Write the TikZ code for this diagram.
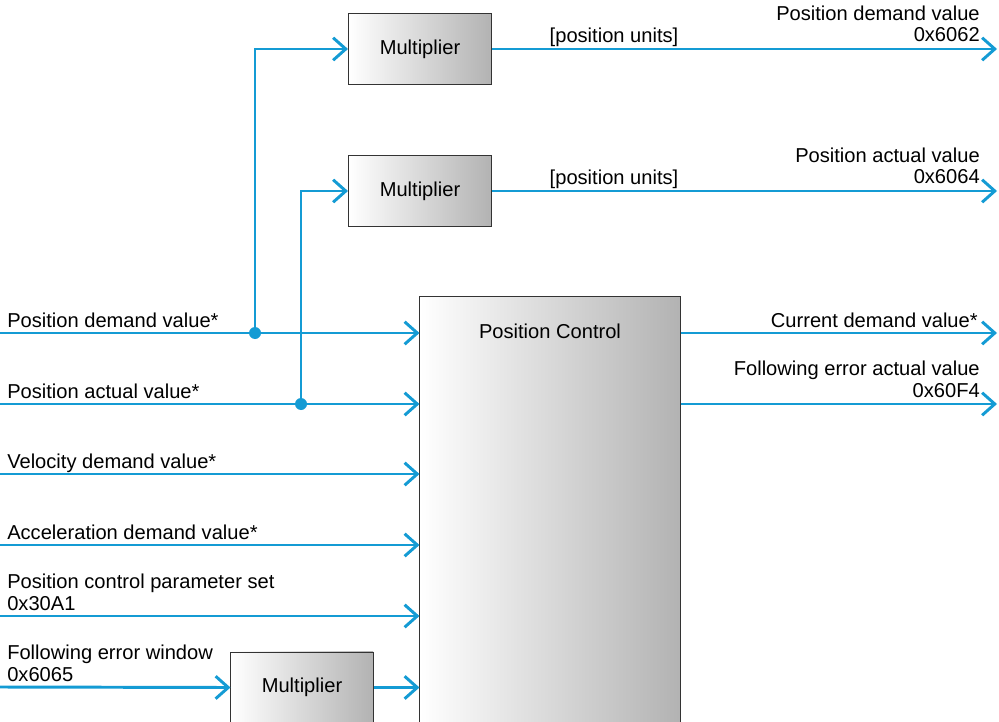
\documentclass[tikz,border=0pt]{standalone}
\usepackage{fontspec}
\setmainfont{Liberation Sans}
\usetikzlibrary{arrows.meta}
\definecolor{sigblue}{RGB}{20,155,212}

\tikzset{
  sig/.style={draw=sigblue, line width=2.1pt, -{Straight Barb[length=9pt,width=16pt,line width=2.1pt]}},
  blockbox/.style={draw=black!80, line width=0.7pt, left color=white, right color=black!30,
    font=\fontsize{14.3}{15.6}\selectfont},
  lbl/.style={inner sep=0pt, font=\fontsize{14.3}{15.6}\selectfont},
}

\begin{document}
\begin{tikzpicture}[x=0.025cm, y=-0.025cm]
  \useasboundingbox (0,0) rectangle (999,722);
  \clip (0,0) rectangle (999,722);

  % blocks
  \node[blockbox, minimum width=3.575cm, minimum height=1.775cm] (mult_dem) at (420,49) {Multiplier};
  \node[blockbox, minimum width=3.575cm, minimum height=1.775cm] (mult_act) at (420,191) {Multiplier};
  \node[blockbox, minimum width=3.55cm, minimum height=1.775cm] (mult_win) at (302,687.5) {Multiplier};
  \node[blockbox, minimum width=6.5cm, minimum height=11.8cm] (pos_ctrl) at (550,533) {};
  \node[lbl] (pc_title) at (550,331) {Position Control};

  % input ends and junctions
  \coordinate (in_pdv) at (0,333);
  \coordinate (in_pav) at (0,404);
  \coordinate (in_vdv) at (0,474);
  \coordinate (in_adv) at (0,545);
  \coordinate (in_pps) at (0,616);
  \coordinate (in_few) at (0,687);
  \coordinate (j_dem) at (255,333);
  \coordinate (j_act) at (301,404);

  % output ends
  \coordinate (out_dem) at (997,49);
  \coordinate (out_act) at (997,191);
  \coordinate (out_cur) at (997,333);
  \coordinate (out_fea) at (997,404);

  % inputs
  \draw[sig] (in_pdv) -- (in_pdv -| pos_ctrl.west);
  \draw[sig] (in_pav) -- (in_pav -| pos_ctrl.west);
  \draw[sig] (in_vdv) -- (in_vdv -| pos_ctrl.west);
  \draw[sig] (in_adv) -- (in_adv -| pos_ctrl.west);
  \draw[sig] (in_pps) -- (in_pps -| pos_ctrl.west);
  \draw[sig] (in_few) -- (mult_win.west);
  \draw[sig] (mult_win.east) -- (mult_win.east -| pos_ctrl.west);

  % branches to the multipliers
  \draw[sig] (j_dem) |- (mult_dem.west);
  \draw[sig] (j_act) |- (mult_act.west);
  \fill[sigblue] (j_dem) circle (6);
  \fill[sigblue] (j_act) circle (6);

  % outputs
  \draw[sig] (mult_dem.east) -- (out_dem);
  \draw[sig] (mult_act.east) -- (out_act);
  \draw[sig] (pos_ctrl.east |- out_cur) -- (out_cur);
  \draw[sig] (pos_ctrl.east |- out_fea) -- (out_fea);

  % labels
  \node[lbl, anchor=base west] (l_pdv) at (7,327) {Position demand value*};
  \node[lbl, anchor=base west] (l_pav) at (7,398) {Position actual value*};
  \node[lbl, anchor=base west] (l_vdv) at (7,468) {Velocity demand value*};
  \node[lbl, anchor=base west] (l_adv) at (7,539) {Acceleration demand value*};
  \node[lbl, anchor=base west, align=left] (l_pps) at (7,610) {Position control parameter set\\0x30A1};
  \node[lbl, anchor=base west, align=left] (l_few) at (7,681) {Following error window\\0x6065};
  \node[lbl, anchor=base] (u_dem) at (614,43) {[position units]};
  \node[lbl, anchor=base] (u_act) at (614,185) {[position units]};
  \node[lbl, anchor=base east, align=right] (l_dem) at (980,42) {Position demand value\\0x6062};
  \node[lbl, anchor=base east, align=right] (l_act) at (980,184) {Position actual value\\0x6064};
  \node[lbl, anchor=base east] (l_cur) at (978,327) {Current demand value*};
  \node[lbl, anchor=base east, align=right] (l_fea) at (980,397) {Following error actual value\\0x60F4};
\end{tikzpicture}
\end{document}
